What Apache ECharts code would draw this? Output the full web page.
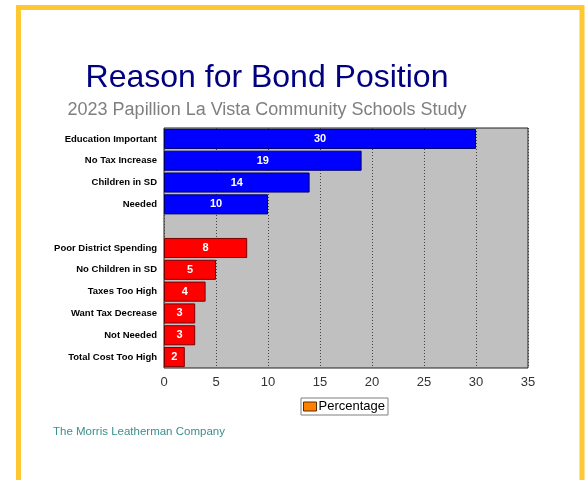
<!DOCTYPE html>
<html>
<head>
<meta charset="utf-8">
<script src="https://cdn.jsdelivr.net/npm/echarts@6/dist/echarts.min.js"></script>
<style>
  html, body { margin: 0; padding: 0; background: #fff; }
  #chart { width: 587px; height: 480px; }
</style>
</head>
<body>
<div id="chart"></div>
<script>
// reasons for supporting the bond (blue) and for opposing it (red)
var supportReasons = ['Education Important', 'No Tax Increase', 'Children in SD', 'Needed'];
var supportValues = [30, 19, 14, 10];
var opposeReasons = ['Poor District Spending', 'No Children in SD', 'Taxes Too High', 'Want Tax Decrease', 'Not Needed', 'Total Cost Too High'];
var opposeValues = [8, 5, 4, 3, 3, 2];
var xTicks = [0, 5, 10, 15, 20, 25, 30, 35];

var font = '"Liberation Sans", Arial, sans-serif';

// put an empty row between the two groups
var categories = supportReasons.concat(['']).concat(opposeReasons);
var barData = [];
supportValues.forEach(function (v) {
  barData.push({ value: v, itemStyle: { color: '#0000FF', borderColor: '#00006A', borderWidth: 1 } });
});
barData.push({ value: null });
opposeValues.forEach(function (v) {
  barData.push({ value: v, itemStyle: { color: '#FF0000', borderColor: '#7A0000', borderWidth: 1 } });
});

var myChart = echarts.init(document.getElementById('chart'));

var option = {
  backgroundColor: '#fff',
  animation: false,
  textStyle: { fontFamily: font },
  title: [
    {
      text: 'Reason for Bond Position',
      left: 262, top: 57, textAlign: 'center',
      textStyle: { color: '#000080', fontSize: 32, fontWeight: 'normal', fontFamily: font }
    },
    {
      text: '2023 Papillion La Vista Community Schools Study',
      left: 262, top: 96, textAlign: 'center',
      textStyle: { color: '#7F7F7F', fontSize: 18, fontWeight: 'normal', fontFamily: font }
    }
  ],
  legend: {
    left: 301, top: 398,
    padding: [2, 3, 2, 2],
    borderColor: '#7F7F7F', borderWidth: 1,
    itemWidth: 13, itemHeight: 9, itemGap: 2,
    icon: 'rect',
    data: [{ name: 'Percentage', itemStyle: { color: '#FF8000', borderColor: '#5A2D00', borderWidth: 1 } }],
    textStyle: { color: '#000', fontSize: 13, fontFamily: font, padding: [0, 0, 0, -3] }
  },
  grid: {
    left: 164, right: 59, top: 128, bottom: 112,
    show: true, backgroundColor: '#C0C0C0',
    borderColor: '#222', borderWidth: 1
  },
  xAxis: {
    type: 'value', min: xTicks[0], max: xTicks[xTicks.length - 1], interval: 5,
    axisLine: { show: false }, axisTick: { show: false },
    axisLabel: { color: '#333', fontSize: 13, margin: 8, fontFamily: font },
    splitLine: { show: true, lineStyle: { color: '#444', type: [1, 2], width: 1 } }
  },
  yAxis: {
    type: 'category', inverse: true, data: categories,
    axisLine: { show: false }, axisTick: { show: false },
    axisLabel: { color: '#000', fontSize: 9.5, fontWeight: 'bold', margin: 7, fontFamily: font }
  },
  series: [
    {
      name: 'Percentage',
      type: 'bar',
      barCategoryGap: '8%',
      data: barData,
      label: {
        show: true, position: 'inside', color: '#fff',
        fontSize: 11, fontWeight: 'bold', fontFamily: font
      }
    }
  ],
  graphic: [
    {
      type: 'rect', silent: true,
      shape: { x: 18.5, y: 7.5, width: 563.5, height: 490 },
      style: { fill: 'none', stroke: '#FFC832', lineWidth: 5 }
    },
    {
      type: 'text', left: 53, top: 426,
      style: { text: 'The Morris Leatherman Company', fill: '#3A8F8F', fontSize: 11.5, fontFamily: font }
    }
  ]
};

myChart.setOption(option);
</script>
</body>
</html>
